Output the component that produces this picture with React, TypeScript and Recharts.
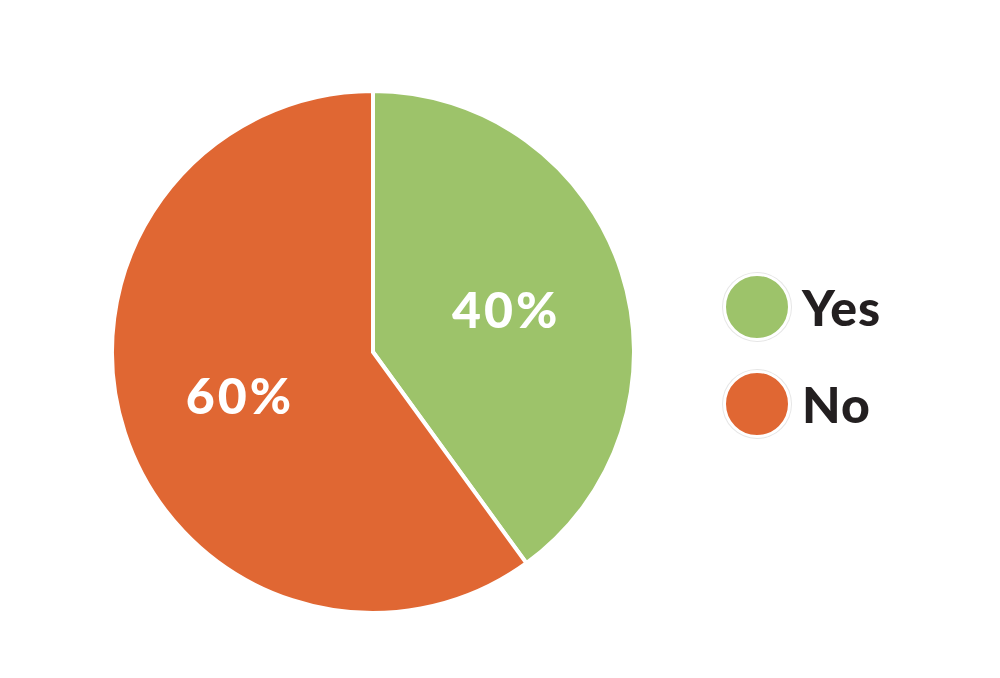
import { Legend, Pie, PieChart, Cell } from "recharts";

const categories = ["Yes", "No"];
const shares = [40, 60];
const colors = ["#9dc36a", "#e06733"];

const chartData = categories.map((name, i) => ({
  name,
  value: shares[i],
  color: colors[i],
}));

const RADIAN = Math.PI / 180;

// white percent labels placed a bit past half the radius
function renderLabel(props: any) {
  const { cx, cy, midAngle, value } = props;
  const r = 140;
  const x = cx + r * Math.cos(-midAngle * RADIAN);
  const y = cy + r * Math.sin(-midAngle * RADIAN);
  return (
    <text
      x={x}
      y={y}
      fill="#ffffff"
      textAnchor="middle"
      dominantBaseline="central"
      fontFamily="Lato, sans-serif"
      fontWeight={900}
      fontSize={50}
      letterSpacing={3}
    >
      {`${value}%`}
    </text>
  );
}

function renderLegend() {
  return (
    <div style={{ fontFamily: "Lato, sans-serif" }}>
      {chartData.map((d) => (
        <div
          key={d.name}
          style={{ display: "flex", alignItems: "center", height: 97 }}
        >
          <div
            style={{
              width: 62,
              height: 62,
              borderRadius: "50%",
              background: d.color,
              border: "3px solid #fff",
              boxShadow: "0 0 0 1px #e6e6e6",
            }}
          />
          <span
            style={{
              marginLeft: 11,
              fontSize: 50,
              fontWeight: 900,
              color: "#231f20",
              lineHeight: 1,
              letterSpacing: 1,
            }}
          >
            {d.name}
          </span>
        </div>
      ))}
    </div>
  );
}

export default function App() {
  return (
    <div
      style={{
        position: "absolute",
        left: 0,
        top: 0,
        width: 1000,
        height: 678,
        background: "#ffffff",
      }}
    >
      <PieChart
        width={1000}
        height={678}
        margin={{ top: 0, right: 0, bottom: 0, left: 0 }}
      >
        <Pie
          data={chartData}
          dataKey="value"
          nameKey="name"
          cx={373}
          cy={352}
          outerRadius={261}
          startAngle={90}
          endAngle={-270}
          stroke="#ffffff"
          strokeWidth={4}
          labelLine={false}
          label={renderLabel}
          isAnimationActive={false}
        >
          {chartData.map((entry, index) => (
            <Cell key={`cell-${index}`} fill={entry.color} />
          ))}
        </Pie>
        <Legend
          content={renderLegend}
          wrapperStyle={{ position: "absolute", left: 723, top: 258, width: 220 }}
        />
      </PieChart>
    </div>
  );
}
